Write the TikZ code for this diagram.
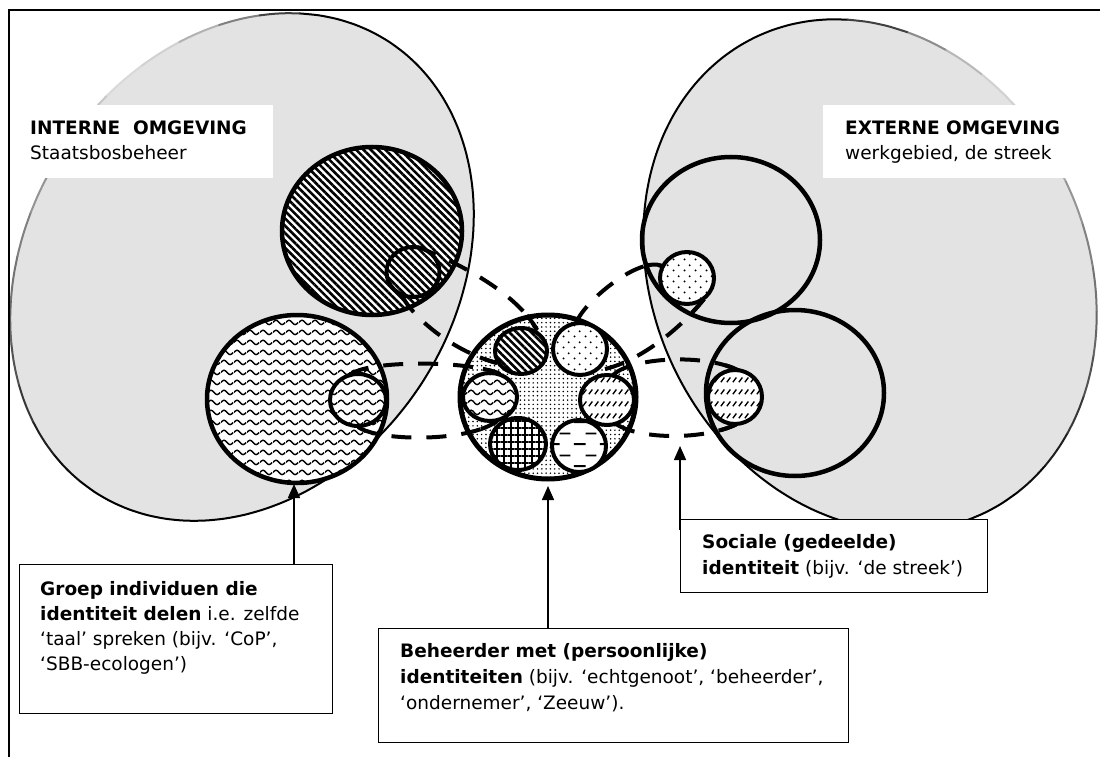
\documentclass[tikz,border=0pt]{standalone}
\usepackage{fontspec}
\setmainfont{DejaVu Sans}
\usetikzlibrary{patterns,patterns.meta,arrows.meta}
\definecolor{bggray}{RGB}{227,227,227}

\tikzdeclarepattern{name=mywavy, bottom left={(0pt,0pt)}, top right={(13pt,10pt)}, tile size={(13pt,10pt)},
 code={\draw[line width=1.5pt] (0pt,5pt) sin (3.25pt,7.4pt) cos (6.5pt,5pt) sin (9.75pt,2.6pt) cos (13pt,5pt);}}
\tikzdeclarepattern{name=mysparsedots, bottom left={(0pt,0pt)}, top right={(11pt,11pt)}, tile size={(11pt,11pt)},
 code={\fill (2.75pt,2.75pt) circle[radius=1.15pt]; \fill (8.25pt,8.25pt) circle[radius=1.15pt];}}
\tikzdeclarepattern{name=myslashes, bottom left={(0pt,0pt)}, top right={(6pt,12pt)}, tile size={(6pt,12pt)},
 code={\draw[line width=1.5pt] (1pt,3pt) -- (5pt,8pt);}}
\tikzdeclarepattern{name=myhdashes, bottom left={(0pt,0pt)}, top right={(26pt,22pt)}, tile size={(26pt,22pt)},
 code={\draw[line width=1.9pt] (2pt,5pt) -- (14pt,5pt); \draw[line width=1.9pt] (14pt,16pt) -- (25pt,16pt);}}

\begin{document}
\begin{tikzpicture}[x=1pt,y=-1pt,
  ring/.style={line width=4.5pt},
  sm/.style={line width=4pt, preaction={fill=white}},
  conn/.style={line width=4pt, dash pattern=on 20pt off 15pt},
  tailB/.style={line width=4pt, dash pattern=on 18pt off 2000pt},
  txtbox/.style={draw, line width=1.3pt, fill=white, anchor=north west, inner sep=0pt},
  lbl/.style={anchor=base west, inner sep=0pt, font=\fontsize{18.5}{25}\selectfont},
  arr/.style={line width=1.5pt, -{Triangle[length=14pt,width=12pt]}},
  hatchp/.style={pattern={Lines[angle=-45,distance=5.2pt,line width=2.6pt]}},
  outl/.style={line width=2pt, line cap=round}
]
\useasboundingbox (0,0) rectangle (1100,757);
\fill[white] (0,0) rectangle (1100,757);

% ---- big environment ellipses ----
\fill[bggray] plot[smooth cycle, domain=0:355, samples=72, variable=\t]
  ({242+146.9*cos(\t)+179.3*sin(\t)},{267-225.3*cos(\t)+116.9*sin(\t)});
\fill[bggray] plot[smooth cycle, domain=0:355, samples=72, variable=\t]
  ({870-115.3*cos(\t)-195.2*sin(\t)},{275-237.5*cos(\t)+94.8*sin(\t)});

\draw[outl] plot[smooth, domain=-25:185, samples=43, variable=\t]
  ({242+146.9*cos(\t)+179.3*sin(\t)},{267-225.3*cos(\t)+116.9*sin(\t)});
\foreach \a/\b/\c in {185/195/95,195/205/88,205/215/78,215/225/68,225/235/60,235/245/55,245/255/50,255/265/42,265/275/32,275/285/22,285/295/15,295/305/18,305/315/30,315/325/50,325/335/75}
  \draw[outl, black!\c] plot[smooth, domain=\a:\b, samples=4, variable=\t]
  ({242+146.9*cos(\t)+179.3*sin(\t)},{267-225.3*cos(\t)+116.9*sin(\t)});

\draw[outl] plot[smooth, domain=-25:190, samples=44, variable=\t]
  ({870-115.3*cos(\t)-195.2*sin(\t)},{275-237.5*cos(\t)+94.8*sin(\t)});
\foreach \a/\b/\c in {190/200/95,200/210/88,210/220/78,220/230/68,230/240/60,240/250/55,250/260/50,260/270/42,270/280/32,280/290/22,290/300/18,300/310/28,310/320/45,320/335/75}
  \draw[outl, black!\c] plot[smooth, domain=\a:\b, samples=4, variable=\t]
  ({870-115.3*cos(\t)-195.2*sin(\t)},{275-237.5*cos(\t)+94.8*sin(\t)});

% ---- titles ----
\fill[white] (10,105) rectangle (273,178);
\node[lbl] (intT) at (30,135) {\textbf{INTERNE\ \ OMGEVING}};
\node[lbl] (intS) at (30,160) {Staatsbosbeheer};
\fill[white] (823,105) rectangle (1100,178);
\node[lbl] (extT) at (845,135) {\textbf{EXTERNE OMGEVING}};
\node[lbl] (extS) at (845,160) {werkgebied, de streek};

% ---- frame ----
\draw[line width=2pt] (1100,10) -- (9,10) -- (9,757);

% ---- group circles ----
\draw[ring, preaction={fill=white}, hatchp] (372,231) ellipse [x radius=90, y radius=84];
\draw[ring, preaction={fill=white}, pattern=mywavy] (297,399) ellipse [x radius=90, y radius=84];
\draw[ring] (731,240) ellipse [x radius=89, y radius=83];
\draw[ring] (795,393) ellipse [x radius=89, y radius=83];

% ---- central person ----
\draw[line width=5pt, preaction={fill=white}, pattern={Dots[distance=4.3pt,radius=0.85pt]}] (548,397) ellipse [x radius=88, y radius=82];

% ---- dashed connectors ----
% hatched
\draw[conn] (417,247) .. controls (450,259) and (515,290) .. (537,330);
\draw[tailB] (537,330) .. controls (515,290) and (450,259) .. (417,247);
\draw[conn] (402,296) .. controls (415,320) and (455,352) .. (497,363);
\draw[tailB] (497,363) .. controls (455,352) and (415,320) .. (402,296);
% wavy
\draw[conn] (350,375) .. controls (365,360) and (470,360) .. (500,374);
\draw[tailB] (500,374) .. controls (470,360) and (365,360) .. (350,375);
\draw[conn] (358,427) .. controls (380,442) and (470,442) .. (497,421);
\draw[tailB] (497,421) .. controls (470,442) and (380,442) .. (358,427);
% dotted
\draw[conn] (576,323) .. controls (585,300) and (640,256) .. (662,266);
\draw[tailB] (662,266) .. controls (640,256) and (585,300) .. (576,323);
\draw[conn] (605,369) .. controls (635,362) and (675,335) .. (704,299);
\draw[tailB] (704,299) .. controls (675,335) and (635,362) .. (605,369);
% diagonal dashes
\draw[conn] (613,375) .. controls (630,358) and (705,352) .. (742,372);
\draw[tailB] (742,372) .. controls (705,352) and (630,358) .. (613,375);
\draw[conn] (616,424) .. controls (640,440) and (705,440) .. (737,424);
\draw[tailB] (737,424) .. controls (705,440) and (640,440) .. (616,424);

% ---- small identity circles ----
\draw[sm, hatchp] (413,272) ellipse [x radius=26.5, y radius=25];
\draw[sm, pattern=mywavy] (358,400) ellipse [x radius=28, y radius=26];
\draw[sm, pattern=mysparsedots] (687,278) ellipse [x radius=27, y radius=26];
\draw[sm, pattern=myslashes] (735,397) ellipse [x radius=27, y radius=27];
\draw[sm, hatchp] (521,351) ellipse [x radius=26, y radius=23];
\draw[sm, pattern=mysparsedots] (580,349) ellipse [x radius=27, y radius=26];
\draw[sm, pattern=mywavy] (490,397) ellipse [x radius=27, y radius=24];
\draw[sm, pattern=myslashes] (607,400) ellipse [x radius=27, y radius=25];
\draw[sm, pattern={Hatch[angle=0,distance=7pt,line width=1.6pt]}] (518,444) ellipse [x radius=28, y radius=26];
\draw[sm, pattern=myhdashes] (579,446) ellipse [x radius=27, y radius=26];

% ---- text boxes ----
\node[txtbox, minimum width=313pt, minimum height=149pt] (groep) at (19,564) {};
\node[lbl] (g1) at (40,595) {\textbf{Groep individuen die}};
\node[lbl] (g2) at (40,620) {\textbf{identiteit delen} i.e. zelfde};
\node[lbl] (g3) at (40,645) {‘taal’ spreken (bijv. ‘CoP’,};
\node[lbl] (g4) at (40,670) {‘SBB-ecologen’)};

\node[txtbox, minimum width=470pt, minimum height=114pt] (beh) at (378,628) {};
\node[lbl] (b1) at (400,657) {\textbf{Beheerder met (persoonlijke)}};
\node[lbl] (b2) at (400,683) {\textbf{identiteiten} (bijv. ‘echtgenoot’, ‘beheerder’,};
\node[lbl] (b3) at (400,709) {‘ondernemer’, ‘Zeeuw’).};

\node[txtbox, minimum width=307pt, minimum height=73pt] (soc) at (680,519) {};
\node[lbl] (s1) at (702,548) {\textbf{Sociale (gedeelde)}};
\node[lbl] (s2) at (702,574) {\textbf{identiteit} (bijv. ‘de streek’)};

% ---- arrows ----
\coordinate (tipL) at (294,484);
\coordinate (tipC) at (548,486);
\coordinate (tipR) at (680,446);
\coordinate (baseR) at (680,530);
\draw[arr] (tipL |- groep.north) -- (tipL);
\draw[arr] (tipC |- beh.north) -- (tipC);
\draw[arr] (baseR) -- (tipR);
\end{tikzpicture}
\end{document}
